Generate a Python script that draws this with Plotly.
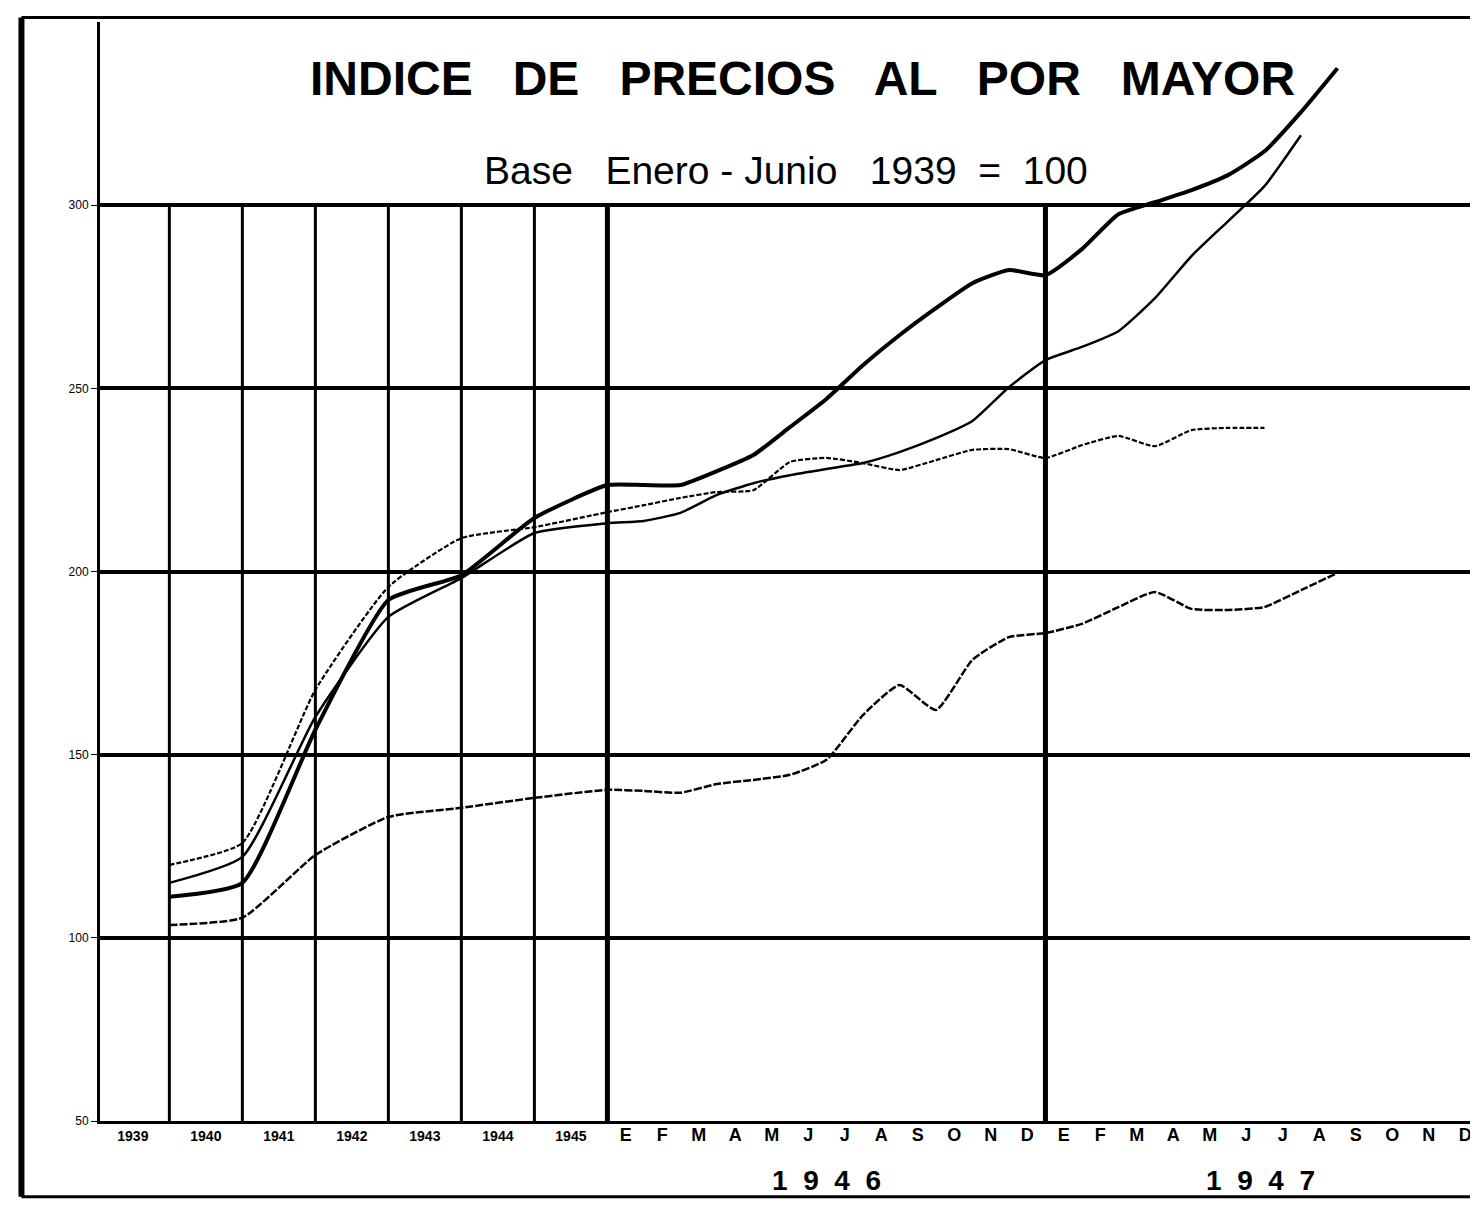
import plotly.graph_objects as go

# ---------------- data ----------------
year_labels = ["1939", "1940", "1941", "1942", "1943", "1944", "1945"]
month_labels = ["E", "F", "M", "A", "M", "J", "J", "A", "S", "O", "N", "D"]
y_ticks = [50, 100, 150, 200, 250, 300]

# annual averages 1939-1945
annual_A = [111.2, 115.0, 156.8, 192.2, 199.0, 214.6, 223.6]
annual_B = [115.0, 122.1, 160.3, 187.6, 198.2, 210.5, 213.2]
annual_C = [119.9, 125.9, 167.7, 195.8, 209.1, 212.1, 216.2]
annual_D = [103.5, 105.5, 122.6, 133.0, 135.5, 138.2, 140.4]

# monthly 1946
m1946_A = [223.6, 223.6, 227.4, 231.8, 239.4, 247.1, 256.3, 264.5, 271.9, 278.7, 282.3, 280.9]
m1946_B = [213.8, 216.0, 220.9, 224.1, 226.3, 228.0, 229.6, 232.6, 236.4, 241.1, 250.3, 257.7]
m1946_C = [218.1, 220.1, 221.7, 222.2, 229.9, 231.0, 229.6, 227.7, 230.4, 233.2, 233.4, 231.0]
m1946_D = [140.1, 139.6, 142.0, 143.1, 144.5, 148.6, 160.8, 169.0, 162.2, 175.9, 182.1, 183.2]

# monthly 1947 (as far as drawn)
m1947_A = [288.0, 297.5, 300.8, 304.1, 308.2, 314.7, 325.4, 337.4]
m1947_B = [261.3, 265.6, 274.6, 286.1, 295.6, 305.2, 319.1]
m1947_C = [234.5, 237.0, 234.2, 238.6, 239.2, 239.2]
m1947_D = [185.7, 190.3, 194.4, 189.8, 189.5, 190.3, 194.9, 199.6]

# ---------------- positions on a numeric x scale ----------------
# each year 1939-45 occupies 2 units, each month 1 unit
year_x = [2 * (i + 1) for i in range(len(year_labels))]          # value at end of year interval
m46_x = [year_x[-1] + 1 + k for k in range(12)]
m47_x = [m46_x[-1] + 1 + k for k in range(12)]


def series(annual, m46, m47):
    xs = year_x + m46_x + m47_x[:len(m47)]
    ys = annual + m46 + m47
    return xs, ys


fig = go.Figure()
styles = [
    (annual_A, m1946_A, m1947_A, dict(color="black", width=4)),
    (annual_B, m1946_B, m1947_B, dict(color="black", width=2.5)),
    (annual_C, m1946_C, m1947_C, dict(color="black", width=2.2, dash="5px,2px")),
    (annual_D, m1946_D, m1947_D, dict(color="black", width=2.5, dash="8px,2px")),
]
for a, b, c, ln in styles:
    xs, ys = series(a, b, c)
    fig.add_trace(go.Scatter(x=xs, y=ys, mode="lines", line=ln, showlegend=False,
                             line_shape="spline", line_smoothing=0.5, hoverinfo="skip"))

# ---------------- axes ----------------
tickvals = [x - 1 for x in year_x] + [x - 0.5 for x in m46_x] + [x - 0.5 for x in m47_x]
ticktext = (["<b>%s</b>" % t for t in year_labels]
            + ["<b><span style='font-size:18px'>%s</span></b>" % t for t in month_labels] * 2)

fig.update_xaxes(range=[0.1, 37.85], tickvals=tickvals, ticktext=ticktext,
                 showgrid=False, zeroline=False, showline=True, linecolor="black",
                 linewidth=3, ticks="", tickangle=0,
                 tickfont=dict(family="Liberation Sans, Arial", size=14, color="black"))
fig.update_yaxes(range=[50, 350], tickvals=y_ticks, ticktext=[str(v) for v in y_ticks],
                 showgrid=True, gridcolor="black", gridwidth=4, zeroline=False,
                 showline=True, linecolor="black", linewidth=3, ticks="outside",
                 ticklen=6, tickcolor="black",
                 tickfont=dict(family="Liberation Sans, Arial", size=12, color="black"))

shapes = []
for xv in year_x[:-1]:
    shapes.append(dict(type="line", xref="x", yref="y", x0=xv, x1=xv, y0=50, y1=300,
                       line=dict(color="black", width=3)))
for xv in [year_x[-1], m46_x[-1]]:
    shapes.append(dict(type="line", xref="x", yref="y", x0=xv, x1=xv, y0=50, y1=300,
                       line=dict(color="black", width=5)))
# outer frame of the sheet
shapes.append(dict(type="line", xref="paper", yref="paper", x0=-0.057, x1=-0.057,
                   y0=-0.069, y1=1.004, line=dict(color="black", width=6)))
shapes.append(dict(type="line", xref="paper", yref="paper", x0=-0.057, x1=1.01,
                   y0=1.004, y1=1.004, line=dict(color="black", width=3)))
shapes.append(dict(type="line", xref="paper", yref="paper", x0=-0.057, x1=1.01,
                   y0=-0.069, y1=-0.069, line=dict(color="black", width=3)))

annotations = [
    dict(text="<b>INDICE   DE   PRECIOS   AL   POR   MAYOR</b>", x=19.35, y=334.5,
         xref="x", yref="y", showarrow=False,
         font=dict(family="Liberation Sans, Arial", size=48, color="black")),
    dict(text="Base   Enero - Junio   1939  =  100", x=18.9, y=309.5,
         xref="x", yref="y", showarrow=False,
         font=dict(family="Liberation Sans, Arial", size=39, color="black")),
    dict(text="<b>1  9  4  6</b>", x=20.0, y=-0.054, xref="x", yref="paper",
         yanchor="middle", showarrow=False,
         font=dict(family="Liberation Sans, Arial", size=28, color="black")),
    dict(text="<b>1  9  4  7</b>", x=31.9, y=-0.054, xref="x", yref="paper",
         yanchor="middle", showarrow=False,
         font=dict(family="Liberation Sans, Arial", size=28, color="black")),
]

# the page adds an 8px body margin, so margins are reduced accordingly
fig.update_layout(width=1478, height=1207, margin=dict(l=92, r=8, t=14, b=94),
                  paper_bgcolor="white", plot_bgcolor="white",
                  shapes=shapes, annotations=annotations)

fig.write_html("out.html")
